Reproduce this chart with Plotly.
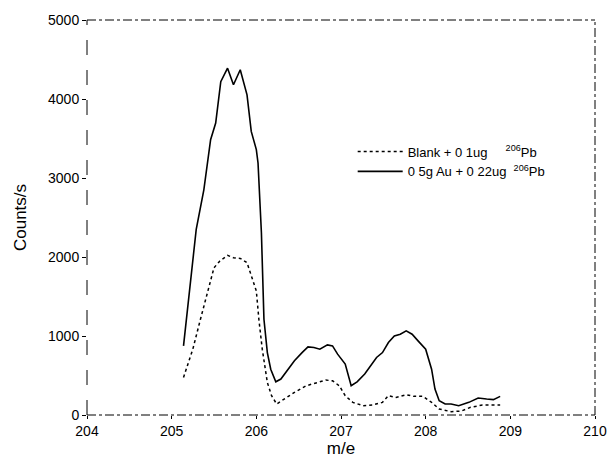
import plotly.graph_objects as go

# Data
solid_x = [205.14, 205.25, 205.29, 205.38, 205.46, 205.52, 205.58, 205.66, 205.73, 205.81,
           205.89, 205.94, 206.0, 206.02, 206.06, 206.09, 206.13, 206.17, 206.23, 206.29,
           206.38, 206.45, 206.54, 206.61, 206.68, 206.75, 206.84, 206.9, 206.96, 207.05,
           207.12, 207.19, 207.28, 207.42, 207.49, 207.56, 207.63, 207.7, 207.77, 207.84,
           207.91, 208.0, 208.07, 208.11, 208.16, 208.23, 208.3, 208.39, 208.51, 208.62,
           208.72, 208.8, 208.88]
solid_y = [875, 2012, 2350, 2850, 3485, 3695, 4220, 4390, 4180, 4370,
           4053, 3590, 3360, 3190, 2306, 1212, 790, 580, 420, 455,
           580, 686, 790, 862, 854, 833, 888, 875, 770, 644,
           370, 420, 518, 728, 790, 918, 1000, 1023, 1065, 1023,
           938, 833, 580, 328, 181, 139, 139, 118, 160, 215,
           202, 194, 236]

dot_x = [205.14, 205.25, 205.34, 205.43, 205.5, 205.57, 205.66, 205.73, 205.81, 205.89,
         205.94, 206.0, 206.03, 206.07, 206.13, 206.18, 206.24, 206.33, 206.45, 206.59,
         206.73, 206.82, 206.9, 206.98, 207.05, 207.14, 207.26, 207.37, 207.49, 207.56,
         207.65, 207.77, 207.86, 207.97, 208.07, 208.16, 208.3, 208.42, 208.53, 208.67,
         208.88]
dot_y = [476, 833, 1212, 1590, 1864, 1950, 2020, 1990, 1982, 1928,
         1760, 1570, 1212, 833, 412, 244, 139, 202, 286, 370,
         412, 442, 433, 370, 244, 160, 118, 126, 160, 244,
         223, 257, 236, 236, 160, 76, 42, 50, 97, 126,
         126]

x_ticks = [204, 205, 206, 207, 208, 209, 210]
y_ticks = [0, 1000, 2000, 3000, 4000, 5000]

name_dot = "Blank + 0 1ug" + "&nbsp;" * 5 + "<sup>206</sup>Pb"
name_solid = "0 5g Au + 0 22ug" + "&nbsp;" * 2 + "<sup>206</sup>Pb"

fig = go.Figure()
fig.add_trace(go.Scatter(x=dot_x, y=dot_y, mode="lines", name=name_dot,
                         line=dict(color="black", width=1.5, dash="dot")))
fig.add_trace(go.Scatter(x=solid_x, y=solid_y, mode="lines", name=name_solid,
                         line=dict(color="black", width=1.6)))

font = dict(family="Liberation Sans, Arial, sans-serif", size=14, color="black")

fig.update_layout(
    width=615, height=459,
    margin=dict(l=87, r=20, t=20, b=44),
    paper_bgcolor="white", plot_bgcolor="white",
    font=font,
    showlegend=True,
    legend=dict(x=0.523, y=0.705, xanchor="left", yanchor="top",
                bgcolor="rgba(0,0,0,0)", font=dict(size=13, color="black"),
                tracegroupgap=0, itemwidth=45),
    xaxis=dict(range=[204, 210], tickvals=x_ticks, showgrid=False, zeroline=False,
               ticks="outside", ticklen=3, tickcolor="black", showline=False,
               automargin=False,
               title=dict(text="m/e", standoff=2), tickfont=dict(size=14)),
    yaxis=dict(range=[0, 5000], tickvals=y_ticks, showgrid=False, zeroline=False,
               ticks="outside", ticklen=4, tickcolor="black", showline=False,
               automargin=False,
               title=dict(text="Counts/s", standoff=17), tickfont=dict(size=14)),
)

# dashed-style frame
frame = [
    (0, 0, 1, 0, "dashdot"),
    (0, 1, 1, 1, "dashdot"),
    (0, 0, 0, 1, "longdash"),
    (1, 0, 1, 1, "dashdot"),
]
for x0, y0, x1, y1, d in frame:
    fig.add_shape(type="line", xref="paper", yref="paper", x0=x0, y0=y0, x1=x1, y1=y1,
                  line=dict(color="black", width=1, dash=d))

fig.write_html("out.html", config={"displayModeBar": False},
               post_script="document.body.style.margin='0';document.body.style.overflow='hidden';")
